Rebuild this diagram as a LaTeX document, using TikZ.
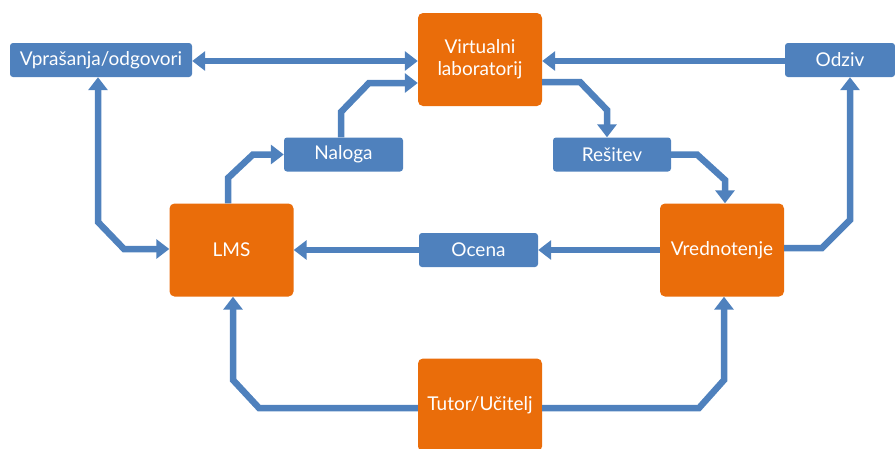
\documentclass[tikz,border=0pt]{standalone}
\usepackage{fontspec}
\setmainfont{Lato}
\usetikzlibrary{arrows.meta}
\definecolor{bblue}{HTML}{4F81BD}
\definecolor{borange}{HTML}{EA6D0A}
\tikzset{
  bluebox/.style={fill=bblue,draw=none,rounded corners=3pt,text=white,inner sep=0pt,minimum height=34pt,font=\fontsize{19}{21}\selectfont},
  orbox/.style={fill=borange,draw=none,rounded corners=5pt,text=white,inner sep=0pt,minimum width=124pt,minimum height=93pt,align=center,font=\fontsize{19}{22}\selectfont},
  arr/.style={draw=bblue,line width=6.5pt,-{Triangle[width=19pt,length=13pt]}},
  darr/.style={draw=bblue,line width=6.5pt,{Triangle[width=19pt,length=13pt]}-{Triangle[width=19pt,length=13pt]}},
  plain/.style={draw=bblue,line width=6.5pt}
}
\begin{document}
\begin{tikzpicture}[x=1pt,y=-1pt]
\useasboundingbox (0,0) rectangle (895,448);
\begin{scope}
\clip (0,0) rectangle (895,448);
\node[bluebox,minimum width=182pt] (vpr) at (101,60) {Vprašanja/odgovori};
\node[orbox] (vl) at (480,59.5) {Virtualni\\laboratorij};
\node[bluebox,minimum width=119pt] (nal) at (343.5,154.5) {Naloga};
\node[bluebox,minimum width=118pt] (res) at (612,154.5) {Rešitev};
\node[bluebox,minimum width=110pt] (odz) at (840,60) {Odziv};
\node[orbox] (lms) at (231.5,250) {LMS};
\node[orbox] (vre) at (722,250) {Vrednotenje};
\node[bluebox,minimum width=119pt] (oce) at (478.5,250) {Ocena};
\node[orbox] (tut) at (480,405) {Tutor/Učitelj};

% Vprasanja <-> Virtualni laboratorij
\draw[darr] (vpr.east |- 0,61) -- (vl.west |- 0,61);
% Odziv -> Virtualni laboratorij
\draw[arr] (odz.west |- 0,61) -- (vl.east |- 0,61);
% Vprasanja <-> LMS
\draw[darr] (vpr.south -| 98,0) -- (98,222) -- (124,249) -- (lms.west |- 0,249);
% LMS -> Naloga
\draw[arr] (lms.north -| 228,0) -- (228,178) -- (253,154.5) -- (nal.west);
% Naloga -> Virtualni laboratorij
\draw[arr] (nal.north -| 341,0) -- (341,112) -- (369,83) -- (vl.west |- 0,83);
% Virtualni laboratorij -> Resitev
\draw[arr] (vl.east |- 0,82) -- (580,82) -- (607,110) -- (res.north -| 607,0);
% Resitev -> Vrednotenje
\draw[arr] (res.east) -- (697,154.5) -- (725,180) -- (vre.north -| 725,0);
% Vrednotenje -> Odziv
\draw[arr] (vre.east |- 0,248) -- (822,248) -- (850,220) -- (odz.south -| 850,0);
% Vrednotenje -> Ocena -> LMS
\draw[arr] (vre.west |- 0,250) -- (oce.east);
\draw[arr] (oce.west) -- (lms.east |- 0,250);
% Tutor -> LMS, Tutor -> Vrednotenje
\draw[arr] (tut.west |- 0,408) -- (259,408) -- (233,380) -- (lms.south -| 233,0);
\draw[arr] (tut.east |- 0,408) -- (699,408) -- (724,380) -- (vre.south -| 724,0);
\end{scope}
\end{tikzpicture}
\end{document}
